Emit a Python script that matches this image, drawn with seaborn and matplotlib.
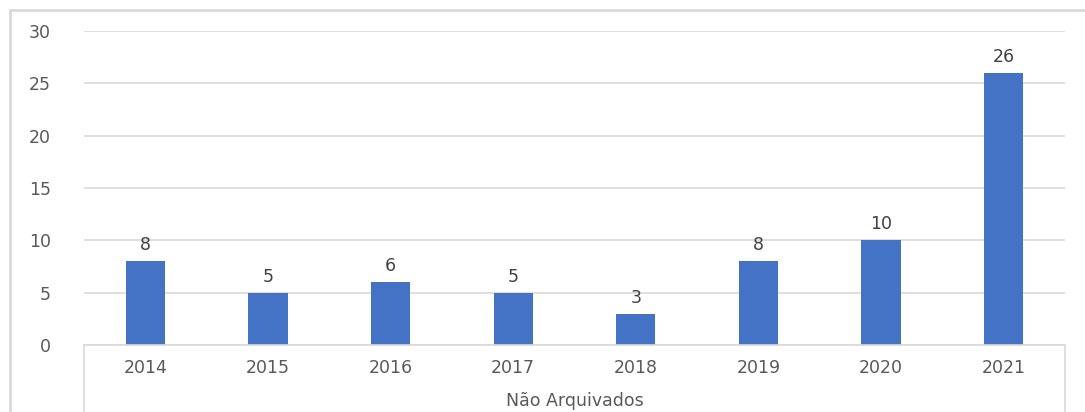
import matplotlib
matplotlib.use("Agg")
import matplotlib.pyplot as plt
import pandas as pd
import seaborn as sns
from matplotlib.lines import Line2D

# ── Data ──────────────────────────────────────────────
years = ["2014", "2015", "2016", "2017", "2018", "2019", "2020", "2021"]
counts = [8, 5, 6, 5, 3, 8, 10, 26]
group_label = "Não Arquivados"

df = pd.DataFrame({"Ano": years, "Total": counts})

sns.set_theme(style="white")
plt.rcParams["font.family"] = ["DejaVu Sans"]

text_col = "#595959"
grid_col = "#d9d9d9"
bar_col = "#4472c4"

fig = plt.figure(figsize=(10.85, 4.12), dpi=100)
ax = fig.add_axes([84 / 1085, (412 - 345) / 412, (1065 - 84) / 1085, (345 - 31) / 412])

sns.barplot(data=df, x="Ano", y="Total", color=bar_col, width=0.32,
            saturation=1, linewidth=0, ax=ax)

ax.set_ylim(0, 30)
ax.set_xlim(-0.5, len(years) - 0.5)
ax.set_yticks(range(0, 31, 5))
ax.yaxis.grid(True, color=grid_col, linewidth=1.2)
ax.set_axisbelow(True)
for s in ["top", "right", "left"]:
    ax.spines[s].set_visible(False)
ax.spines["bottom"].set_color(grid_col)
ax.spines["bottom"].set_linewidth(1.2)

ax.tick_params(axis="y", length=0, pad=24, labelsize=12.5, labelcolor=text_col)
ax.tick_params(axis="x", length=0, pad=10, labelsize=12.5, labelcolor=text_col)
ax.set_xlabel(group_label, fontsize=12.5, color=text_col, labelpad=11)
ax.set_ylabel("")

# value labels
for c in ax.containers:
    ax.bar_label(c, labels=[str(v) for v in counts], padding=5,
                 fontsize=12.5, color="#404040")

# multi-level category separators below axis
for xa in (0, 1):
    ax.add_line(Line2D([xa, xa], [0, -0.25], transform=ax.transAxes,
                       color=grid_col, linewidth=1.2, clip_on=False))

# chart border (top/left visible)
fig.add_artist(Line2D([10 / 1085, 10 / 1085], [0, (412 - 10) / 412],
                      transform=fig.transFigure, color=grid_col, linewidth=2))
fig.add_artist(Line2D([10 / 1085, 1], [(412 - 10) / 412, (412 - 10) / 412],
                      transform=fig.transFigure, color=grid_col, linewidth=2))

fig.savefig("out.png", dpi=100)
plt.close(fig)
